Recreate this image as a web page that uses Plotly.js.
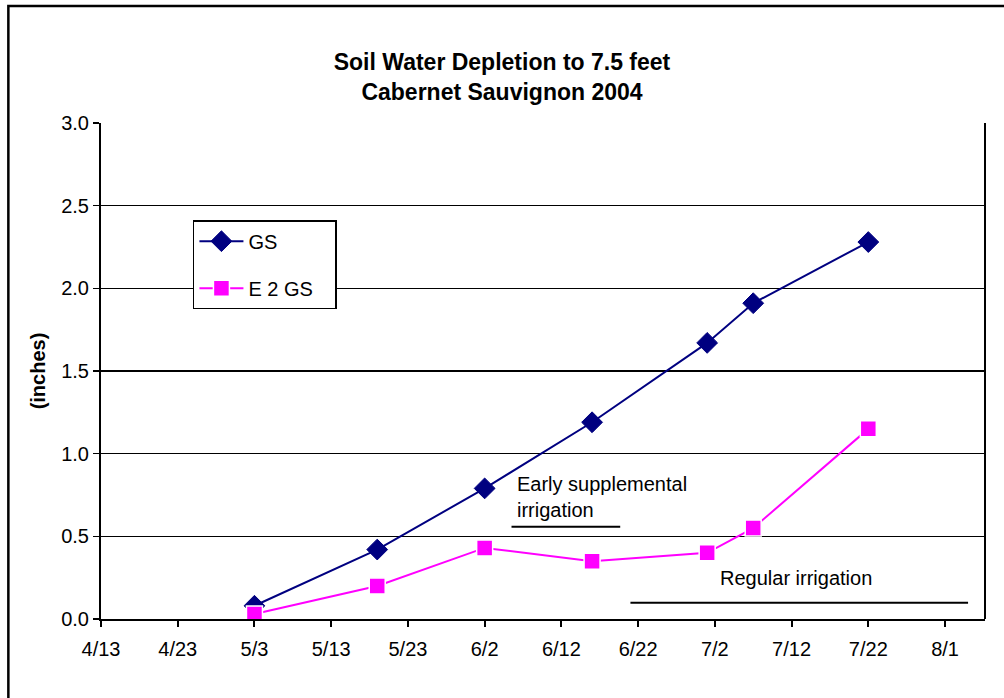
<!DOCTYPE html>
<html>
<head>
<meta charset="utf-8">
<script src="https://cdn.plot.ly/plotly-3.0.1.min.js"></script>
<style>html,body{margin:0;padding:0;background:#fff;}#chart{width:1004px;height:698px;}</style>
</head>
<body>
<div id="chart"></div>
<script>
const dates = ["2004-05-03","2004-05-19","2004-06-02","2004-06-16","2004-07-01","2004-07-07","2004-07-22"];
const gs = [0.08, 0.42, 0.79, 1.19, 1.67, 1.91, 2.28];
const e2gs = [0.03, 0.20, 0.43, 0.35, 0.40, 0.55, 1.15];
const seriesNames = ["GS", "E 2 GS"];
const tickDates = ["2004-04-13","2004-04-23","2004-05-03","2004-05-13","2004-05-23","2004-06-02","2004-06-12","2004-06-22","2004-07-02","2004-07-12","2004-07-22","2004-08-01"];
const tickLabels = ["4/13","4/23","5/3","5/13","5/23","6/2","6/12","6/22","7/2","7/12","7/22","8/1"];
const earlyLine = {x: ["2004-06-05 12:00","2004-06-19 16:00"], y: 0.558};
const regularLine = {x: ["2004-06-21","2004-08-04"], y: 0.099};

const pad = "&nbsp;&nbsp;&nbsp;";
const font = "Liberation Sans, Arial, sans-serif";
const traces = [
  {x: dates, y: gs, name: seriesNames[0], legendgroup: "a", mode: "lines+markers", type: "scatter",
   line: {color: "#000080", width: 2},
   marker: {symbol: "diamond", size: 16, color: "#000080", line: {color: "#000080", width: 1}}},
  {x: dates, y: e2gs, name: seriesNames[1] + pad, legendgroup: "b", mode: "lines+markers", type: "scatter",
   line: {color: "#FF00FF", width: 2},
   marker: {symbol: "square", size: 16, color: "#FF00FF", line: {color: "#FFFFFF", width: 1.5}}}
];
const layout = {
  width: 1004, height: 698,
  margin: {l: 101, r: 19, t: 123, b: 79},
  paper_bgcolor: "#fff", plot_bgcolor: "#fff",
  font: {family: font, size: 20, color: "#000"},
  title: {text: "<b>Soil Water Depletion to 7.5 feet<br>Cabernet Sauvignon 2004</b>", font: {family: font, size: 23, color: "#000"}, x: 0.5, xanchor: "center", y: 0.9, yanchor: "top"},
  xaxis: {type: "date", range: ["2004-04-13", "2004-08-06 05:00"], tickvals: tickDates, ticktext: tickLabels,
          ticks: "outside", ticklen: 6, tickwidth: 2, tickcolor: "#000", showgrid: false, zeroline: false,
          showline: true, linecolor: "#000", linewidth: 2, tickfont: {size: 20}, ticklabelstandoff: 5},
  yaxis: {range: [0, 3], tickvals: [0, 0.5, 1, 1.5, 2, 2.5, 3], ticktext: ["0.0","0.5","1.0","1.5","2.0","2.5","3.0"],
          ticks: "outside", ticklen: 6, tickwidth: 1.5, tickcolor: "#000", showgrid: true, gridcolor: "#000", gridwidth: 1.5,
          zeroline: false, showline: true, linecolor: "#000", linewidth: 2, tickfont: {size: 20},
          title: {text: "<b>(inches)</b>", font: {size: 20}, standoff: 10}},
  showlegend: true,
  legend: {x: 0.104, y: 0.804, xanchor: "left", yanchor: "top", bordercolor: "#000", borderwidth: 1.5, bgcolor: "#fff",
           font: {size: 20}, traceorder: "grouped", tracegroupgap: 18, itemwidth: 44},
  shapes: [
    {type: "line", xref: "paper", yref: "paper", x0: 1, x1: 1, y0: 0, y1: 1, line: {color: "#000", width: 2}},
    {type: "line", xref: "x", yref: "y", x0: earlyLine.x[0], x1: earlyLine.x[1], y0: earlyLine.y, y1: earlyLine.y, line: {color: "#000", width: 2}},
    {type: "line", xref: "x", yref: "y", x0: regularLine.x[0], x1: regularLine.x[1], y0: regularLine.y, y1: regularLine.y, line: {color: "#000", width: 2}},
    {type: "rect", xref: "paper", yref: "paper", x0: -0.1048, x1: 1.05, y0: -0.3, y1: 1.2359, line: {color: "#000", width: 2.5}}
  ],
  annotations: [
    {xref: "x", yref: "y", x: "2004-06-06", y: 0.735, text: "Early supplemental<br>irrigation", showarrow: false, xanchor: "left", yanchor: "middle", align: "left", font: {size: 20}},
    {xref: "x", yref: "y", x: "2004-07-12 14:00", y: 0.248, text: "Regular irrigation", showarrow: false, xanchor: "center", yanchor: "middle", font: {size: 20}}
  ]
};
Plotly.newPlot("chart", traces, layout, {displayModeBar: false, staticPlot: true});
</script>
</body>
</html>
